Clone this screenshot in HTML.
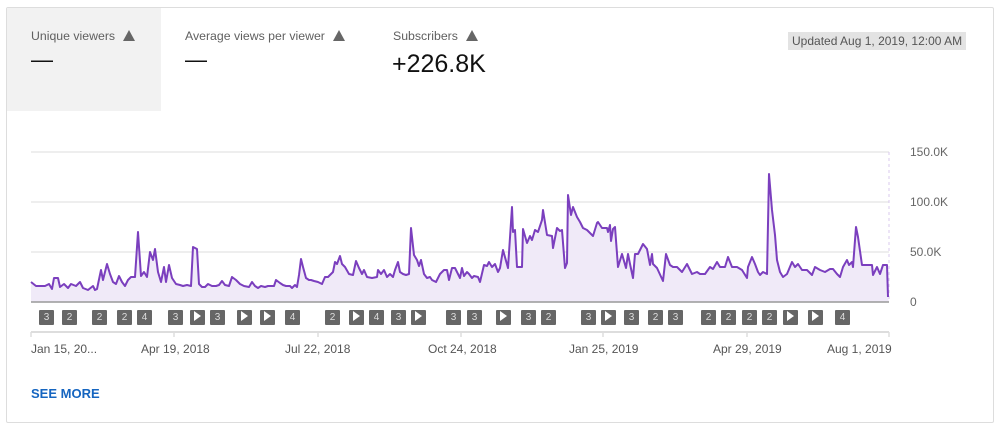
<!DOCTYPE html>
<html><head><style>
body{margin:0;width:1000px;height:428px;background:#fff;font-family:"Liberation Sans",sans-serif;overflow:hidden;position:relative}
.card{position:absolute;left:6px;top:7px;width:986px;height:414px;border:1px solid #ddd;border-radius:2px}
.tab{position:absolute;left:7px;top:8px;width:154px;height:103px;background:#f2f2f2}
.lbl{position:absolute;font-size:12.3px;color:#606060}
.val{position:absolute;font-size:25px;color:#111}
.warn{display:inline-block;width:0;height:0;border-left:6px solid transparent;border-right:6px solid transparent;border-bottom:11px solid #666;vertical-align:-1px;margin-left:8px;position:relative}
.upd{position:absolute;left:788px;top:32px;background:#e3e3e3;color:#555;font-size:12px;padding:2px 4px}
.b{position:absolute;top:310px;width:15px;height:15px;background:#666;color:#ddd;font-size:10px;text-align:center;line-height:15px;border-radius:1px}
.t{position:absolute;top:342px;font-size:12px;color:#555}
.y{position:absolute;left:910px;font-size:12px;color:#666}
</style></head><body>
<div class="card"></div>
<div class="tab"></div>
<div class="lbl" style="left:31px;top:29px">Unique viewers<span class="warn"></span></div>
<div class="val" style="left:31px;top:47px;font-size:22px">—</div>
<div class="lbl" style="left:185px;top:29px">Average views per viewer<span class="warn"></span></div>
<div class="val" style="left:185px;top:47px;font-size:22px">—</div>
<div class="lbl" style="left:393px;top:29px">Subscribers<span class="warn"></span></div>
<div class="val" style="left:392px;top:50px">+226.8K</div>
<div class="upd">Updated Aug 1, 2019, 12:00 AM</div>
<svg style="position:absolute;left:0;top:0" width="1000" height="428">
<g stroke="#e8e8e8" stroke-width="1.5"><line x1="31" y1="152" x2="889" y2="152"/><line x1="31" y1="202" x2="889" y2="202"/><line x1="31" y1="252" x2="889" y2="252"/></g>
<line x1="889" y1="152" x2="889" y2="302" stroke="#d8c8ee" stroke-dasharray="3,3"/>
<polygon id="a" fill="#f0eaf8" points=""/>
<polyline id="l" fill="none" stroke="#7b3fbe" stroke-width="2" stroke-linejoin="round" points=""/>
<line x1="31" y1="302" x2="889" y2="302" stroke="#999" stroke-width="1.5"/>
<line x1="31" y1="332" x2="889" y2="332" stroke="#ddd" stroke-width="2"/>
<g stroke="#ddd" stroke-width="1.5"><line x1="31" y1="332" x2="31" y2="337"/><line x1="174" y1="332" x2="174" y2="337"/><line x1="318" y1="332" x2="318" y2="337"/><line x1="461" y1="332" x2="461" y2="337"/><line x1="603" y1="332" x2="603" y2="337"/><line x1="747" y1="332" x2="747" y2="337"/><line x1="889" y1="332" x2="889" y2="337"/></g>
</svg>
<div class="y" style="top:145px">150.0K</div>
<div class="y" style="top:195px">100.0K</div>
<div class="y" style="top:245px">50.0K</div>
<div class="y" style="top:295px">0</div>
<div class="t" style="left:31px">Jan 15, 20...</div>
<div class="t" style="left:141px">Apr 19, 2018</div>
<div class="t" style="left:285px">Jul 22, 2018</div>
<div class="t" style="left:428px">Oct 24, 2018</div>
<div class="t" style="left:569px">Jan 25, 2019</div>
<div class="t" style="left:713px">Apr 29, 2019</div>
<div class="t" style="left:827px">Aug 1, 2019</div>
<div style="position:absolute;left:31px;top:386px;font-size:13px;font-weight:bold;color:#1565c0">SEE MORE</div>
<div id="bs"></div>
<script>
var d=[31,20,36,16,45,16,49,18,52,13,54,24,58,24,60,15,64,18,68,14,71,18,76,16,80,20,83,14,88,12,93,16,95,12,97,13,101,32,103,22,107,38,110,28,113,20,116,18,119,26,122,20,125,16,128,22,131,25,135,25,138,70,141,26,144,30,147,25,150,50,153,42,155,53,158,30,161,20,164,35,166,20,169,37,172,24,176,18,180,17,183,16,187,17,191,16,193,55,197,53,199,18,202,15,205,15,208,18,212,16,216,16,219,17,222,21,225,17,229,16,232,25,236,22,240,18,244,16,249,15,252,20,255,16,258,14,261,16,265,15,268,16,271,16,274,16,276,22,280,19,283,17,286,16,290,16,292,14,295,17,297,15,299,27,301,43,303,35,306,24,309,22,311,22,314,21,318,20,322,18,325,25,328,25,333,30,335,40,337,38,340,46,342,38,345,35,349,28,353,27,356,41,359,34,362,28,364,32,367,25,372,24,377,25,378,32,381,28,384,32,387,25,390,28,393,25,395,32,398,40,400,30,403,28,406,27,409,28,411,74,414,47,417,42,419,36,421,42,424,28,427,24,430,25,432,22,436,20,440,28,444,32,447,32,449,22,452,34,455,34,457,30,460,24,462,34,464,26,467,30,469,28,472,24,474,26,478,25,480,20,484,37,487,36,489,40,492,35,495,38,498,30,500,34,503,52,508,34,512,95,513,70,515,72,517,35,522,35,523,73,527,59,530,66,532,62,535,72,538,70,542,82,543,92,547,67,552,66,553,54,557,74,560,71,562,72,565,34,567,39,568,107,571,87,573,95,577,85,580,80,583,74,587,72,593,66,597,79,598,80,602,74,607,74,608,70,610,77,611,61,613,73,615,75,618,35,622,48,626,34,628,48,630,38,633,24,635,48,638,48,643,58,647,53,650,37,652,48,653,38,657,34,663,21,666,48,670,37,673,35,677,35,682,30,687,38,692,28,697,30,700,28,705,28,710,35,713,33,717,40,720,35,725,35,728,45,732,35,737,35,742,32,747,24,748,35,752,45,755,38,758,30,760,27,763,30,767,28,769,128,772,92,775,67,777,42,780,30,783,25,787,28,792,40,795,35,798,38,802,32,807,32,812,27,815,35,820,32,825,30,830,33,833,33,837,28,840,25,843,35,847,42,849,37,852,40,853,35,856,75,858,65,862,37,867,37,872,37,873,27,877,35,880,28,883,37,887,37,888,5];
var p=[];for(var i=0;i<d.length;i+=2)p.push(d[i]+","+(302-d[i+1]));
document.getElementById('l').setAttribute('points',p.join(' '));
document.getElementById('a').setAttribute('points','31,302 '+p.join(' ')+' 889,302');
var b=[[46,3],[69,2],[99,2],[124,2],[144,4],[175,3],[197,0],[217,3],[244,0],[267,0],[292,4],[332,2],[356,0],[376,4],[398,3],[418,0],[453,3],[474,3],[503,0],[528,3],[548,2],[588,3],[608,0],[631,3],[655,2],[675,3],[708,2],[728,2],[749,2],[769,2],[790,0],[815,0],[842,4]];
var h='';b.forEach(function(e){h+='<div class="b" style="left:'+(e[0]-7)+'px">'+(e[1]?e[1]:'<span style="display:inline-block;border-left:7px solid #fff;border-top:5px solid transparent;border-bottom:5px solid transparent;vertical-align:-1px"></span>')+'</div>';});
document.getElementById('bs').innerHTML=h;
</script>
</body></html>
